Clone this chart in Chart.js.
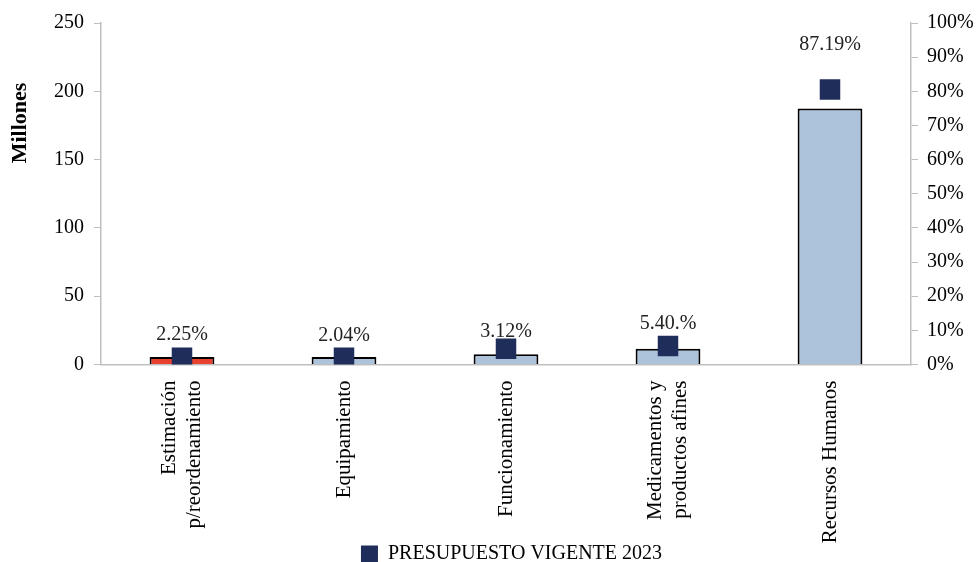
<!DOCTYPE html>
<html>
<head>
<meta charset="utf-8">
<script src="https://cdn.jsdelivr.net/npm/chart.js@4.4.1/dist/chart.umd.min.js"></script>
<style>
  html, body { margin: 0; padding: 0; background: #fff; }
  #wrap { width: 977px; height: 562px; position: relative; }
</style>
</head>
<body>
<div id="wrap"><canvas id="chart"></canvas></div>
<script>
// categorias y valores (millones / porcentaje)
const categories = [
  ['Estimación', 'p/reordenamiento'],
  'Equipamiento',
  'Funcionamiento',
  ['Medicamentos y', 'productos afines'],
  'Recursos Humanos'
];
const montos = [5.5, 5.5, 7.5, 11.6, 187.5];
const marcadores = [2.0, 2.0, 4.6, 5.4, 80.5];
const porcentajes = [2.25, 2.04, 3.12, 5.40, 87.19];
const etiquetas = ['2.25%', '2.04%', '3.12%', '5.40.%', '87.19%'];
const leftTicks = [0, 50, 100, 150, 200, 250];
const rightTicks = [0, 10, 20, 30, 40, 50, 60, 70, 80, 90, 100];

const FONT = "'Liberation Serif', 'DejaVu Serif', serif";
const AXIS_GRAY = '#bfbfbf';
const NAVY = '#1f2d5a';
const TICK_SIZE = 20;
const XTICK_SIZE = 21;

const barColors = montos.map((_, i) => i === 0 ? '#e8412f' : '#adc3db');

// ajustes: centrar etiquetas de varias lineas, mover leyenda, textos extra
const labelPlugin = {
  id: 'pctLabels',
  afterLayout(chart) {
    const x = chart.scales.x;
    const lh = XTICK_SIZE * 1.2;
    x.getLabelItems(chart.chartArea).forEach(it => {
      const n = Array.isArray(it.label) ? it.label.length : 1;
      it.textOffset -= (n - 1) * lh / 2;
    });
    // que las etiquetas largas no se recorten
    x.bottom = chart.height;
    chart.legend.left += 23;
    chart.legend.right += 23;
    chart.legend.top += 12;
    chart.legend.bottom += 12;
  },
  afterDatasetsDraw(chart) {
    const ctx = chart.ctx;
    const x = chart.scales.x, y1 = chart.scales.y1;
    ctx.save();
    ctx.font = TICK_SIZE + 'px ' + FONT;
    ctx.fillStyle = '#222';
    ctx.textAlign = 'center';
    ctx.textBaseline = 'middle';
    etiquetas.forEach((t, i) => {
      ctx.fillText(t, x.getPixelForValue(i), y1.getPixelForValue(porcentajes[i]) - 22);
    });
    // titulo eje izquierdo
    ctx.translate(20, chart.chartArea.top + 100);
    ctx.rotate(-Math.PI / 2);
    ctx.font = 'bold 22px ' + FONT;
    ctx.fillStyle = '#000';
    ctx.fillText('Millones', 0, 0);
    ctx.restore();
  }
};

new Chart(document.getElementById('chart').getContext('2d'), {
  data: {
    labels: categories,
    datasets: [
      {
        type: 'line',
        label: 'PRESUPUESTO VIGENTE 2023',
        data: marcadores,
        yAxisID: 'y1',
        showLine: false,
        pointStyle: 'rect',
        pointRadius: 14.5,
        pointHoverRadius: 14.5,
        pointBorderWidth: 0,
        backgroundColor: NAVY,
        borderColor: NAVY,
        borderWidth: 0,
        order: 0
      },
      {
        type: 'bar',
        label: 'monto',
        data: montos,
        yAxisID: 'y',
        backgroundColor: barColors,
        borderColor: '#000',
        borderWidth: 2,
        categoryPercentage: 1,
        barPercentage: 0.4,
        order: 1
      }
    ]
  },
  options: {
    responsive: true,
    maintainAspectRatio: false,
    animation: false,
    layout: { padding: { top: 23, left: 0, right: 0, bottom: 0 } },
    plugins: {
      legend: {
        position: 'bottom',
        labels: {
          filter: (item) => item.datasetIndex === 0,
          boxWidth: 17,
          boxHeight: 17,
          padding: 0,
          color: '#000',
          font: { family: FONT, size: 20 }
        }
      },
      tooltip: { enabled: false }
    },
    scales: {
      x: {
        grid: { display: false },
        border: { display: true, color: AXIS_GRAY, width: 1.5 },
        ticks: {
          color: '#000',
          maxRotation: 90,
          minRotation: 90,
          padding: 8,
          font: { family: FONT, size: XTICK_SIZE }
        },
        afterFit: (s) => { s.height = 167.5; }
      },
      y: {
        position: 'left',
        min: 0,
        max: 250,
        afterBuildTicks: (s) => { s.ticks = leftTicks.map(v => ({ value: v })); },
        grid: { drawOnChartArea: false, tickLength: 7, color: AXIS_GRAY },
        border: { color: AXIS_GRAY, width: 1.5 },
        ticks: { color: '#000', padding: 10, font: { family: FONT, size: TICK_SIZE } },
        afterFit: (s) => { s.width = 101; }
      },
      y1: {
        position: 'right',
        min: 0,
        max: 100,
        afterBuildTicks: (s) => { s.ticks = rightTicks.map(v => ({ value: v })); },
        grid: { drawOnChartArea: false, tickLength: 7, color: AXIS_GRAY },
        border: { color: AXIS_GRAY, width: 1.5 },
        ticks: {
          color: '#000',
          padding: 9,
          font: { family: FONT, size: TICK_SIZE },
          callback: (v) => v + '%'
        },
        afterFit: (s) => { s.width = 66; }
      }
    }
  },
  plugins: [labelPlugin]
});
</script>
</body>
</html>
